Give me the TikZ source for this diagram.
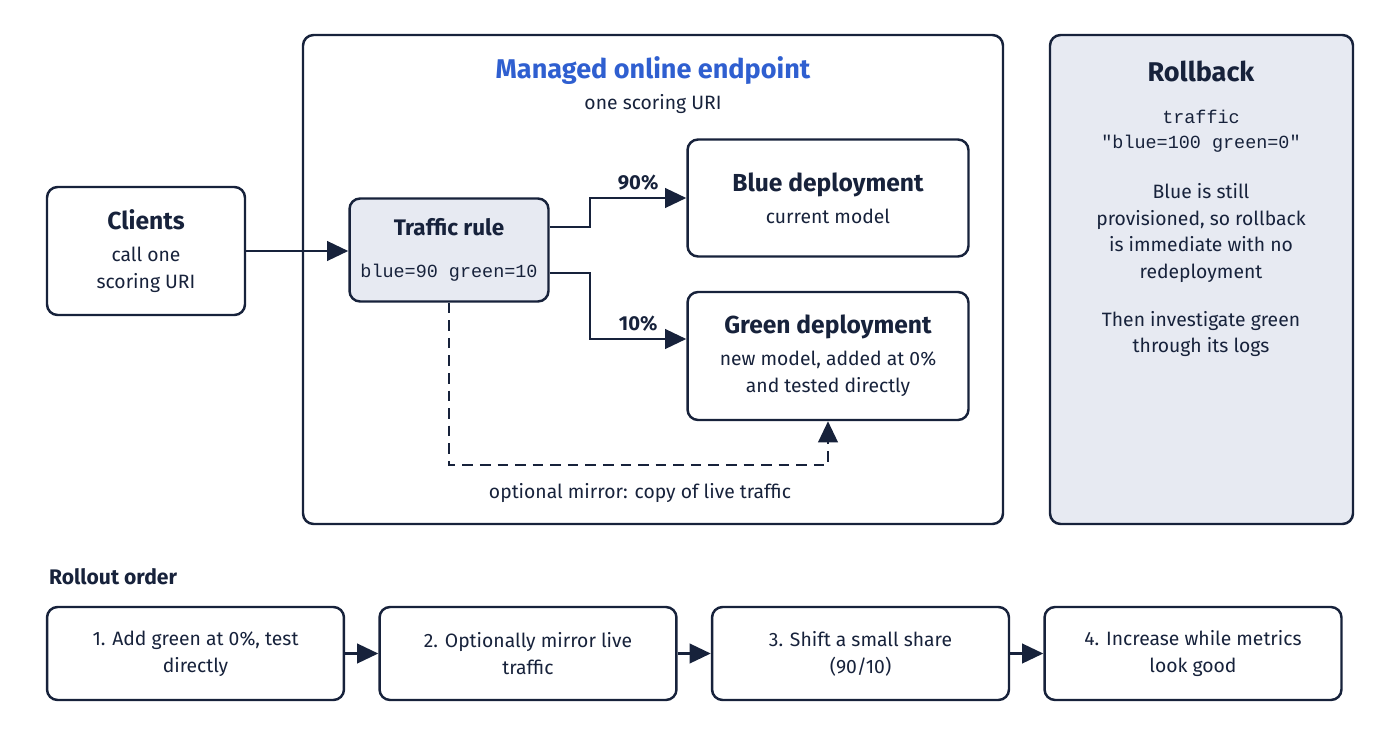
\documentclass[tikz,border=0pt]{standalone}
\usepackage{fontspec}
\setmainfont{Fira Sans}
\setmonofont{Liberation Mono}
\usetikzlibrary{positioning,arrows.meta}
\definecolor{ink}{HTML}{17223B}
\definecolor{accent}{HTML}{2F5FD0}
\definecolor{panel}{HTML}{E7EAF2}
\newcommand{\hd}{\bfseries\fontsize{14}{17}\selectfont}
\newcommand{\bd}{\mdseries\fontsize{11}{15.3}\selectfont}
\tikzset{
  box/.style={draw=ink, line width=1.4pt, rounded corners=6pt, fill=white, align=center, text=ink, inner sep=0pt, font=\bd},
  link/.style={draw=ink, line width=1.6pt, -{Triangle[length=12pt,width=11pt]}},
  body/.style={font=\bd},
}
\begin{document}
\begin{tikzpicture}[x=0.02cm, y=-0.02cm, text=ink]
  \useasboundingbox (0,0) rectangle (1400,747);

  % endpoint frame
  \draw[draw=ink, line width=1.4pt, rounded corners=6pt] (303,35) rectangle (1003,524);
  \node[text=accent, font=\bfseries\fontsize{15.4}{18}\selectfont] (title) at (653,71) {Managed online endpoint};
  \node[body] (uri) at (653,104) {one scoring URI};

  % rollback panel
  \draw[draw=ink, line width=1.4pt, rounded corners=6pt, fill=panel] (1050,35) rectangle (1353,524);
  \node[font=\bfseries\fontsize{15.4}{18}\selectfont] (rb) at (1201,71) {Rollback};
  \node[align=center, font=\ttfamily\fontsize{10.5}{14}\selectfont] (rbcmd) at (1201,131) {traffic\\"blue=100 green=0"};
  \node[body, align=center] (rbtxt) at (1201,233) {Blue is still\\provisioned, so rollback\\is immediate with no\\redeployment};
  \node[body, align=center] (rbnext) at (1201,334) {Then investigate green\\through its logs};

  % nodes
  \node[box, minimum width=3.96cm, minimum height=2.56cm] (clients) at (146,251)
    {\hd Clients\\[3pt]\bd call one\\[0pt]scoring URI};
  \node[box, fill=panel, minimum width=3.98cm, minimum height=2.06cm] (rule) at (449,250)
    {\bfseries\fontsize{12.8}{15}\selectfont Traffic rule\\[9pt]\mdseries\ttfamily\fontsize{10.5}{13}\selectfont blue=90 green=10};
  \node[box, minimum width=5.62cm, minimum height=2.34cm] (blue) at (828,198)
    {\hd Blue deployment\\[3pt]\bd current model};
  \node[box, minimum width=5.62cm, minimum height=2.56cm] (green) at (828,356)
    {\hd Green deployment\\[3pt]\bd new model, added at 0\%\\[0pt]and tested directly};

  \coordinate (bend1) at (590,227);
  \coordinate (bend2) at (590,273);

  \draw[link] (clients) -- (rule.west |- clients);
  \draw[link] (rule.east |- bend1) -- (bend1) |- (blue.west) node[pos=0.75, above, font=\bfseries\fontsize{11.5}{13}\selectfont] {90\%};
  \draw[link] (rule.east |- bend2) -- (bend2) |- (green.west |- 0,339) node[pos=0.75, above, font=\bfseries\fontsize{11.5}{13}\selectfont] {10\%};
  \draw[link, dash pattern=on 6pt off 4pt] (rule.south) -- (449,465) -- (828,465) -- (green.south);
  \node[body] (mirror) at (640,493) {optional mirror: copy of live traffic};

  % rollout order
  \node[anchor=west, font=\bfseries\fontsize{12}{14}\selectfont] (order) at (43,577) {Rollout order};
  \foreach \txt [count=\i] in {{1. Add green at 0\%, test\\directly},{2. Optionally mirror live\\traffic},{3. Shift a small share\\(90/10)},{4. Increase while metrics\\look good}} {
    \node[box, minimum width=5.94cm, minimum height=1.86cm] (step\i) at ({195.5+332.5*(\i-1)},653.5) {\txt};
  }
  \foreach \a/\b in {1/2,2/3,3/4} \draw[link] (step\a) -- (step\b);
\end{tikzpicture}
\end{document}
